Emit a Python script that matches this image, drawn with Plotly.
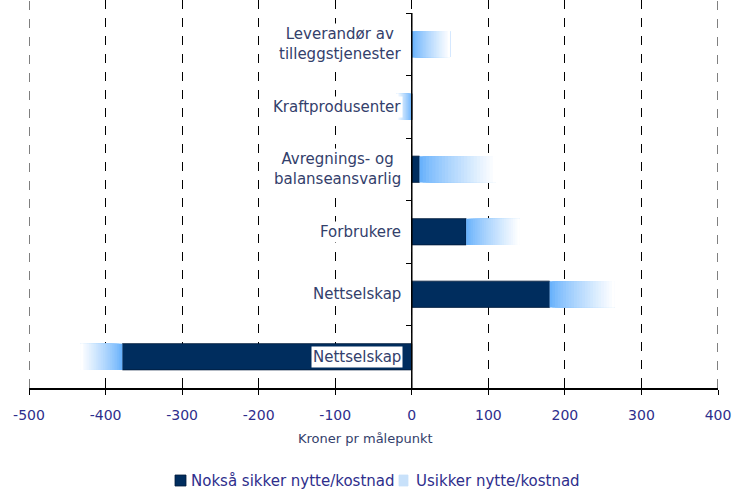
import plotly.graph_objects as go

categories = ["Nettselskap", "Nettselskap", "Forbrukere", "Avregnings- og<br>balanseansvarlig",
              "Kraftprodusenter", "Leverandør av<br>tilleggstjenester"]
sure_values = [-378, 180, 71, 10, 0, 0]
uncertain_values = [-55, 85, 70, 100, -20, 50]
x_ticks = [-500, -400, -300, -200, -100, 0, 100, 200, 300, 400]
legend_names = ["Nokså sikker nytte/kostnad", "Usikker nytte/kostnad"]

DARK = "#002d5e"
LIGHT_LEGEND = "#c8e1fa"
START = (105, 178, 252)
END = (255, 255, 255)
N = 24
TXT = "#33406b"
NAVY = "#2e2e8c"

ypos = list(range(len(categories)))
fig = go.Figure()

fig.add_trace(go.Bar(
    y=ypos, x=sure_values, orientation="h", width=0.42,
    marker=dict(color=DARK, line=dict(width=0.8, color="#001a3a")),
    name=legend_names[0], showlegend=False,
))

# uncertain part: gradient built from overlapping steps, lighter steps on top
for i in range(N):
    t = i / (N - 1)
    c = tuple(int(round(START[k] + (END[k] - START[k]) * t ** 0.85)) for k in range(3))
    fig.add_trace(go.Bar(
        y=ypos,
        x=[u * (N - i) / N for u in uncertain_values],
        base=[s + u * i / N for s, u in zip(sure_values, uncertain_values)],
        orientation="h", width=0.42,
        marker=dict(color="rgb(%d,%d,%d)" % c, line=dict(width=0)),
        name=legend_names[1], showlegend=False, hoverinfo="skip",
    ))

# Category labels placed next to the zero line
for i, cat in enumerate(categories):
    fig.add_annotation(
        x=0, y=i, xref="x", yref="y", text=cat, showarrow=False,
        xanchor="right", xshift=-9, align="center",
        font=dict(family="DejaVu Sans", size=15, color=TXT),
        bgcolor="white", borderpad=1,
    )

# Zero line as the category axis
fig.add_shape(type="line", xref="x", yref="y", x0=0, x1=0, y0=-0.5, y1=5.5,
              line=dict(color="black", width=1.5))

# dashed gridlines at the range edges
for xv in (x_ticks[0], x_ticks[-1]):
    fig.add_shape(type="line", xref="x", yref="paper", x0=xv, x1=xv, y0=0, y1=1,
                  line=dict(color="black", width=1, dash="dash"))

fig.add_annotation(
    x=0.488, y=-0.129, xref="paper", yref="paper", text="Kroner pr målepunkt",
    showarrow=False, xanchor="center", yanchor="middle",
    font=dict(family="DejaVu Sans", size=13, color=TXT),
)

# Legend (drawn below the plot)
PH = 388.0
PW = 689.0
def px(xp):
    return (xp - 29) / PW
def py(yp):
    return (PH - yp) / PH

legend_items = [(175, 186, 189, legend_names[0], DARK), (399, 408, 414, legend_names[1], LIGHT_LEGEND)]
for x0, x1, xt, name, col in legend_items:
    fig.add_shape(type="rect", xref="paper", yref="paper",
                  x0=px(x0), x1=px(x1), y0=py(486), y1=py(475),
                  fillcolor=col, line=dict(width=0.8, color="#001a3a" if col == DARK else col))
    fig.add_annotation(x=px(xt), y=py(481), xref="paper", yref="paper", text=name,
                       showarrow=False, xanchor="left", yanchor="middle",
                       font=dict(family="DejaVu Sans", size=15, color=NAVY))

fig.update_layout(
    width=732, height=490,
    margin=dict(l=29, r=14, t=0, b=102, autoexpand=False),
    paper_bgcolor="white", plot_bgcolor="white",
    barmode="overlay",
    showlegend=False,
    xaxis=dict(
        range=[-500, 400], tickvals=x_ticks, ticktext=[str(v) for v in x_ticks],
        showgrid=True, gridcolor="black", griddash="dash", gridwidth=1,
        zeroline=False, showline=True, linecolor="black", linewidth=1.5,
        ticks="outside", ticklen=5, tickcolor="black", tickwidth=1.2,
        ticklabelstandoff=8, automargin=False,
        tickfont=dict(family="DejaVu Sans", size=14, color=NAVY),
    ),
    xaxis2=dict(
        range=[-500, 400], tickvals=x_ticks, overlaying="x", anchor="y", side="bottom",
        showgrid=False, zeroline=False, showticklabels=False, automargin=False,
        ticks="inside", ticklen=5, tickcolor="black", tickwidth=1.2,
    ),
    yaxis=dict(
        range=[-0.5, 5.708], tickvals=[0.5, 1.5, 2.5, 3.5, 4.5, 5.5],
        showticklabels=False, showgrid=False, zeroline=False, showline=False,
        ticks="outside", ticklen=6, tickcolor="black", tickwidth=1.2,
        anchor="free", position=500 / 900, automargin=False,
    ),
)

fig.add_trace(go.Scatter(x=[None], y=[None], xaxis="x2", showlegend=False))

fig.write_html("out.html", config={"displayModeBar": False},
               post_script="document.body.style.margin='0';document.body.style.overflow='hidden';")
